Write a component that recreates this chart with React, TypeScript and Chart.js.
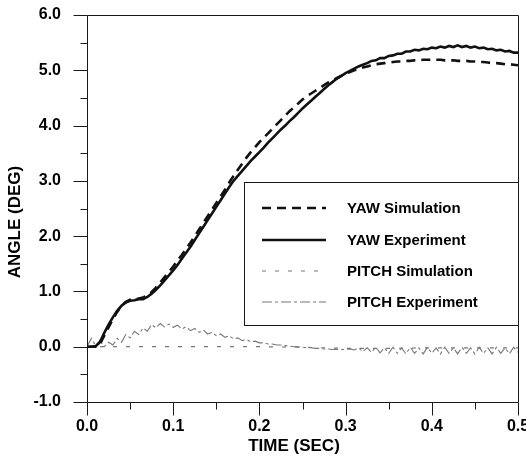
import React, { useEffect, useRef } from 'react';
import { Chart, registerables } from 'chart.js';

Chart.register(...registerables);

// ---------- DATA ----------
const TIME = [
  0.0, 0.005, 0.01, 0.015, 0.02, 0.025, 0.03, 0.035, 0.04, 0.045,
  0.05, 0.055, 0.06, 0.065, 0.07, 0.075, 0.08, 0.085, 0.09, 0.095,
  0.1, 0.105, 0.11, 0.115, 0.12, 0.125, 0.13, 0.135, 0.14, 0.145,
  0.15, 0.155, 0.16, 0.165, 0.17, 0.175, 0.18, 0.185, 0.19, 0.195,
  0.2, 0.205, 0.21, 0.215, 0.22, 0.225, 0.23, 0.235, 0.24, 0.245,
  0.25, 0.255, 0.26, 0.265, 0.27, 0.275, 0.28, 0.285, 0.29, 0.295,
  0.3, 0.305, 0.31, 0.315, 0.32, 0.325, 0.33, 0.335, 0.34, 0.345,
  0.35, 0.355, 0.36, 0.365, 0.37, 0.375, 0.38, 0.385, 0.39, 0.395,
  0.4, 0.405, 0.41, 0.415, 0.42, 0.425, 0.43, 0.435, 0.44, 0.445,
  0.45, 0.455, 0.46, 0.465, 0.47, 0.475, 0.48, 0.485, 0.49, 0.495,
  0.5,
];

const YAW_SIMULATION = [
  0.0, 0.0, 0.0, 0.05, 0.2, 0.35, 0.5, 0.63, 0.74, 0.81,
  0.85, 0.86, 0.87, 0.89, 0.93, 0.99, 1.07, 1.16, 1.26, 1.35,
  1.45, 1.56, 1.66, 1.77, 1.88, 2.0, 2.12, 2.24, 2.36, 2.48,
  2.6, 2.72, 2.84, 2.97, 3.09, 3.2, 3.31, 3.42, 3.52, 3.61,
  3.7, 3.78, 3.86, 3.94, 4.02, 4.1, 4.18, 4.26, 4.33, 4.4,
  4.47, 4.53, 4.58, 4.63, 4.68, 4.73, 4.78, 4.82, 4.86, 4.9,
  4.94, 4.97, 5.0, 5.03, 5.05, 5.07, 5.09, 5.11, 5.12, 5.13,
  5.14, 5.15, 5.16, 5.16, 5.17, 5.17, 5.18, 5.18, 5.19, 5.19,
  5.19, 5.19, 5.19, 5.18, 5.18, 5.18, 5.17, 5.17, 5.17, 5.16,
  5.16, 5.15, 5.15, 5.14, 5.13, 5.13, 5.12, 5.11, 5.11, 5.1,
  5.09,
];

const YAW_EXPERIMENT = [
  0.0, 0.0, 0.01, 0.08, 0.25, 0.4, 0.53, 0.65, 0.74, 0.8,
  0.83, 0.84, 0.86, 0.86, 0.9, 0.96, 1.03, 1.11, 1.2, 1.29,
  1.38, 1.48, 1.59, 1.7, 1.81, 1.93, 2.05, 2.17, 2.29, 2.41,
  2.53, 2.65, 2.77, 2.89, 3.0, 3.09, 3.18, 3.27, 3.36, 3.44,
  3.52, 3.6, 3.69, 3.77, 3.85, 3.93, 4.0, 4.08, 4.15, 4.23,
  4.31, 4.38, 4.45, 4.52, 4.59, 4.66, 4.73, 4.79, 4.85, 4.9,
  4.95, 4.99, 5.03, 5.07, 5.1, 5.13, 5.17, 5.18, 5.22, 5.22,
  5.26, 5.27, 5.3, 5.3, 5.34, 5.34, 5.37, 5.36, 5.39, 5.38,
  5.41, 5.4, 5.43, 5.41, 5.44, 5.42, 5.45, 5.42, 5.44, 5.41,
  5.43, 5.4, 5.41, 5.38, 5.39, 5.36, 5.37, 5.34, 5.35, 5.32,
  5.32,
];

const PITCH_SIM_TIME = [0.0, 0.05, 0.1, 0.15, 0.2, 0.25, 0.3, 0.35, 0.4, 0.45, 0.5];
const PITCH_SIMULATION = [0.0, 0.0, 0.0, 0.0, 0.0, -0.01, -0.03, -0.03, -0.02, -0.02, -0.02];

const PITCH_EXPERIMENT = [
  0.0, 0.15, 0.02, 0.12, 0.0, 0.08, 0.03, 0.15, 0.08, 0.22,
  0.16, 0.28, 0.22, 0.34, 0.28, 0.4, 0.34, 0.42, 0.36, 0.41,
  0.35, 0.39, 0.32, 0.36, 0.29, 0.33, 0.26, 0.3, 0.23, 0.26,
  0.2, 0.23, 0.17, 0.2, 0.14, 0.16, 0.11, 0.13, 0.09, 0.1,
  0.07, 0.07, 0.05, 0.05, 0.03, 0.03, 0.02, 0.01, 0.0, 0.0,
  -0.01, -0.02, -0.02, -0.03, -0.03, -0.04, -0.04, -0.05, -0.05, -0.05,
  -0.05, -0.04, -0.06, -0.02, -0.09, -0.02, -0.1, -0.01, -0.11, -0.02,
  -0.12, -0.01, -0.12, -0.02, -0.13, -0.01, -0.12, -0.02, -0.13, -0.01,
  -0.12, -0.02, -0.13, -0.01, -0.12, -0.02, -0.13, -0.01, -0.12, -0.02,
  -0.13, -0.01, -0.12, -0.02, -0.13, -0.01, -0.12, -0.02, -0.13, -0.01,
  -0.1,
];

const SERIES_LABELS = ['YAW Simulation', 'YAW Experiment', 'PITCH Simulation', 'PITCH Experiment'];
const X_TITLE = 'TIME (SEC)';
const Y_TITLE = 'ANGLE (DEG)';
const X_MIN = 0;
const X_MAX = 0.5;
const Y_MIN = -1;
const Y_MAX = 6;

// ---------- STYLE ----------
const FONT = '"Liberation Sans", Arial, Helvetica, sans-serif';

const toPoints = (xs: number[], ys: number[]) => xs.map((x, i) => ({ x, y: ys[i] }));

const isMultiple = (v: number, step: number) => Math.abs(v / step - Math.round(v / step)) < 1e-6;

const framePlugin = {
  id: 'frameTicks',
  afterDraw(chart: any) {
    const { ctx, chartArea: a, scales } = chart;
    ctx.save();
    ctx.strokeStyle = '#1a1a1a';
    ctx.lineWidth = 1;
    const L = Math.round(a.left) + 0.5;
    const T = Math.round(a.top) + 0.5;
    const R = Math.round(a.right) + 0.5;
    const B = Math.round(a.bottom) + 0.5;
    ctx.beginPath();
    ctx.rect(L, T, R - L, B - T);
    ctx.stroke();
    ctx.beginPath();
    const ys = scales.y;
    ys.ticks.forEach((t: any) => {
      const p = Math.round(ys.getPixelForValue(t.value)) + 0.5;
      const len = isMultiple(t.value, 1) ? 14 : 7;
      ctx.moveTo(L - len, p);
      ctx.lineTo(L, p);
    });
    const xs = scales.x;
    xs.ticks.forEach((t: any) => {
      const p = Math.round(xs.getPixelForValue(t.value)) + 0.5;
      const len = isMultiple(t.value, 0.1) ? 13 : 7;
      ctx.moveTo(p, B);
      ctx.lineTo(p, B + len);
    });
    ctx.stroke();

    // axis titles
    ctx.fillStyle = '#000';
    ctx.font = `bold 17px ${FONT}`;
    ctx.textAlign = 'center';
    ctx.textBaseline = 'middle';
    ctx.fillText(X_TITLE, 294, 446);
    ctx.save();
    ctx.translate(15, 222);
    ctx.rotate(-Math.PI / 2);
    ctx.fillText(Y_TITLE, 0, 0);
    ctx.restore();
    ctx.restore();
  },
};

const legendPlugin = {
  id: 'boxLegend',
  afterDatasetsDraw(chart: any) {
    const { ctx } = chart;
    const bx = 244.5, by = 182.5, bw = 274, bh = 143;
    ctx.save();
    ctx.fillStyle = '#ffffff';
    ctx.fillRect(bx, by, bw, bh);
    ctx.strokeStyle = '#1a1a1a';
    ctx.lineWidth = 1;
    ctx.strokeRect(bx, by, bw, bh);
    const rows = [208, 240, 271, 302];
    chart.data.datasets.forEach((ds: any, i: number) => {
      const y = rows[i];
      ctx.save();
      ctx.strokeStyle = ds.borderColor;
      ctx.lineWidth = ds.borderWidth;
      ctx.setLineDash(ds.borderDash || []);
      ctx.beginPath();
      ctx.moveTo(262, y);
      ctx.lineTo(326, y);
      ctx.stroke();
      ctx.restore();
      ctx.fillStyle = '#000';
      ctx.font = `bold 15px ${FONT}`;
      ctx.textBaseline = 'middle';
      ctx.textAlign = 'left';
      ctx.fillText(ds.label, 347, y + 1);
    });
    ctx.restore();
  },
};

export default function App() {
  const ref = useRef<HTMLCanvasElement | null>(null);

  useEffect(() => {
    document.body.style.margin = '0';
    const canvas = ref.current;
    if (!canvas) return;
    const chart = new Chart(canvas, {
      type: 'line',
      data: {
        datasets: [
          {
            label: SERIES_LABELS[0],
            data: toPoints(TIME, YAW_SIMULATION),
            borderColor: '#111',
            borderWidth: 2.6,
            borderDash: [9, 6],
            pointRadius: 0,
            fill: false,
            tension: 0,
          },
          {
            label: SERIES_LABELS[1],
            data: toPoints(TIME, YAW_EXPERIMENT),
            borderColor: '#111',
            borderWidth: 2.6,
            pointRadius: 0,
            fill: false,
            tension: 0,
          },
          {
            label: SERIES_LABELS[2],
            data: toPoints(PITCH_SIM_TIME, PITCH_SIMULATION),
            borderColor: '#777',
            borderWidth: 1.2,
            borderDash: [4, 9],
            pointRadius: 0,
            fill: false,
            tension: 0,
          },
          {
            label: SERIES_LABELS[3],
            data: toPoints(TIME, PITCH_EXPERIMENT),
            borderColor: '#777',
            borderWidth: 1.1,
            borderDash: [10, 3, 3, 3],
            pointRadius: 0,
            fill: false,
            tension: 0,
          },
        ],
      },
      options: {
        responsive: false,
        animation: false,
        layout: { padding: { left: 0, right: 8, top: 15, bottom: 0 } },
        plugins: {
          legend: { display: false },
          tooltip: { enabled: false },
        },
        scales: {
          x: {
            type: 'linear',
            min: X_MIN,
            max: X_MAX,
            afterFit: (s: any) => {
              s.height = 65;
              s.paddingLeft = 0;
              s.paddingRight = 0;
            },
            border: { display: false },
            grid: { display: false, drawTicks: false },
            ticks: {
              stepSize: 0.05,
              autoSkip: false,
              maxRotation: 0,
              padding: 15,
              color: '#000',
              font: { family: FONT, size: 16, weight: 'bold' },
              callback: (v: any) => (isMultiple(Number(v), 0.1) ? Number(v).toFixed(1) : ''),
            },
            title: { display: false },
          },
          y: {
            type: 'linear',
            min: Y_MIN,
            max: Y_MAX,
            afterFit: (s: any) => {
              s.width = 87;
              s.paddingTop = 0;
              s.paddingBottom = 0;
            },
            border: { display: false },
            grid: { display: false, drawTicks: false },
            ticks: {
              stepSize: 0.5,
              autoSkip: false,
              padding: 26,
              color: '#000',
              font: { family: FONT, size: 16, weight: 'bold' },
              callback: (v: any) => (isMultiple(Number(v), 1) ? Number(v).toFixed(1) : ''),
            },
            title: { display: false },
          },
        },
      } as any,
      plugins: [legendPlugin, framePlugin],
    });
    return () => chart.destroy();
  }, []);

  return (
    <div style={{ width: 526, height: 467 }}>
      <canvas ref={ref} width={526} height={467} style={{ display: 'block' }} />
    </div>
  );
}
